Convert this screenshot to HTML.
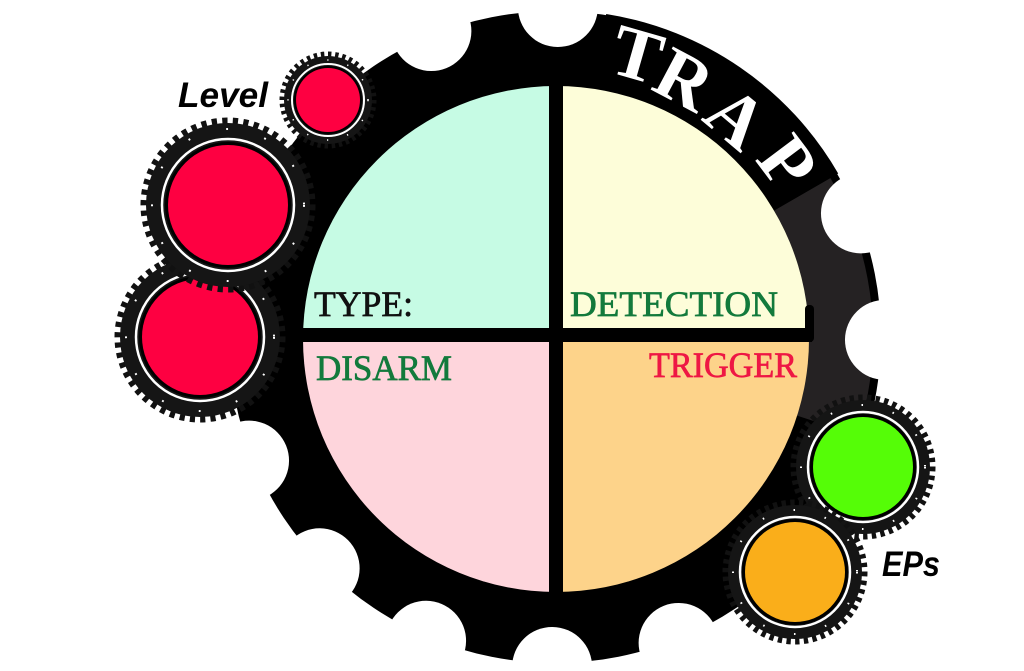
<!DOCTYPE html>
<html><head><meta charset="utf-8"><style>
html,body{margin:0;padding:0;background:#fff;width:1024px;height:671px;overflow:hidden;}
svg{display:block;}
</style></head><body>
<svg width="1024" height="671" viewBox="0 0 1024 671" xmlns="http://www.w3.org/2000/svg" overflow="hidden">
<defs>
<clipPath id="cc"><circle cx="556" cy="339" r="253"/></clipPath>
<clipPath id="frame"><rect x="0" y="0" width="1024" height="671"/></clipPath>
</defs>
<g clip-path="url(#frame)">
<!-- big gear -->
<circle cx="555" cy="337" r="326" fill="#000"/>
<path d="M555,337 L830.4,178 A318 318 0 0 1 857.4,435.3 Z" fill="#252223"/>
<g fill="#fff" transform="translate(555,337)">
<circle cx="0" cy="-330" r="40" transform="rotate(0.5)"/>
<circle cx="0" cy="-330" r="40" transform="rotate(23)"/>
<circle cx="0" cy="-330" r="40" transform="rotate(45.5)"/>
<circle cx="0" cy="-330" r="40" transform="rotate(68)"/>
<circle cx="0" cy="-330" r="40" transform="rotate(90.5)"/>
<circle cx="0" cy="-330" r="40" transform="rotate(113)"/>
<circle cx="0" cy="-330" r="40" transform="rotate(135.5)"/>
<circle cx="0" cy="-330" r="40" transform="rotate(158)"/>
<circle cx="0" cy="-330" r="40" transform="rotate(180.5)"/>
<circle cx="0" cy="-330" r="40" transform="rotate(203)"/>
<circle cx="0" cy="-330" r="40" transform="rotate(225.5)"/>
<circle cx="0" cy="-330" r="40" transform="rotate(248)"/>
<circle cx="0" cy="-330" r="40" transform="rotate(270.5)"/>
<circle cx="0" cy="-330" r="40" transform="rotate(293)"/>
<circle cx="0" cy="-330" r="40" transform="rotate(315.5)"/>
<circle cx="0" cy="-330" r="40" transform="rotate(338)"/>
</g>
<rect x="0" y="663" width="1024" height="8" fill="#fff"/>
<!-- banner -->
<path d="M555,337 L606.2,14 A327 327 0 0 1 838.2,173.5 Z" fill="#000"/>
<g font-family="Liberation Serif, serif" font-weight="bold" font-size="74" fill="#fff" text-anchor="middle" dominant-baseline="central">
<text transform="translate(637,55) rotate(16)">T</text>
<text transform="translate(684,80) rotate(28)">R</text>
<text transform="translate(736,118) rotate(40)">A</text>
<text transform="translate(787,163) rotate(53)">P</text>
</g>
<!-- colored circle -->
<g clip-path="url(#cc)">
<rect x="290" y="80" width="266" height="260" fill="#c6fbe4"/>
<rect x="556" y="80" width="270" height="260" fill="#fdfdd9"/>
<rect x="290" y="335" width="266" height="270" fill="#fed5dc"/>
<rect x="556" y="335" width="270" height="270" fill="#fdd38a"/>
</g>
<rect x="300" y="328" width="512" height="14" fill="#000"/>
<rect x="805" y="305" width="9" height="37" rx="4" fill="#000"/>
<rect x="549" y="84" width="14" height="512" fill="#000"/>
<g font-family="Liberation Serif, serif" font-size="36" stroke-width="0.7">
<text x="314" y="316" fill="#111" stroke="#111" textLength="99" lengthAdjust="spacingAndGlyphs">TYPE:</text>
<text x="570" y="316" fill="#137a3c" stroke="#137a3c" textLength="208" lengthAdjust="spacingAndGlyphs">DETECTION</text>
<text x="316" y="380" fill="#137a3c" stroke="#137a3c" textLength="136" lengthAdjust="spacingAndGlyphs">DISARM</text>
<text x="649" y="377" fill="#ee1744" stroke="#ee1744" textLength="148" lengthAdjust="spacingAndGlyphs">TRIGGER</text>
</g>
<!-- small gears -->
<g>
<circle cx="200" cy="337" r="82" fill="none" stroke="#111" stroke-width="7" pathLength="100" stroke-dasharray="1 1"/>
<circle cx="200" cy="337" r="80" fill="#151515"/>
<circle cx="200" cy="337" r="74" fill="none" stroke="#fff" stroke-width="2" pathLength="100" stroke-dasharray="0.4 7.9"/>
<circle cx="200" cy="337" r="64" fill="none" stroke="#fff" stroke-width="2.5"/>
<circle cx="200" cy="337" r="61" fill="#000"/>
<circle cx="200" cy="337" r="58" fill="#fe0041"/>
</g>
<g>
<circle cx="228" cy="205" r="84" fill="none" stroke="#111" stroke-width="7" pathLength="100" stroke-dasharray="1 1"/>
<circle cx="228" cy="205" r="82" fill="#151515"/>
<circle cx="228" cy="205" r="76" fill="none" stroke="#fff" stroke-width="2" pathLength="100" stroke-dasharray="0.4 7.9"/>
<circle cx="228" cy="205" r="66" fill="none" stroke="#fff" stroke-width="2.5"/>
<circle cx="228" cy="205" r="63" fill="#000"/>
<circle cx="228" cy="205" r="60" fill="#fe0041"/>
</g>
<g>
<circle cx="328" cy="100" r="46" fill="none" stroke="#111" stroke-width="5" pathLength="100" stroke-dasharray="1.2 1.3"/>
<circle cx="328" cy="100" r="44" fill="#151515"/>
<circle cx="328" cy="100" r="40" fill="none" stroke="#fff" stroke-width="1.5" pathLength="100" stroke-dasharray="0.5 7.8"/>
<circle cx="328" cy="100" r="36" fill="none" stroke="#fff" stroke-width="2"/>
<circle cx="328" cy="100" r="34" fill="#000"/>
<circle cx="328" cy="100" r="32" fill="#fe0041"/>
</g>
<g>
<circle cx="863" cy="467" r="69" fill="none" stroke="#111" stroke-width="7" pathLength="100" stroke-dasharray="1 1"/>
<circle cx="863" cy="467" r="67" fill="#151515"/>
<circle cx="863" cy="467" r="62" fill="none" stroke="#fff" stroke-width="2" pathLength="100" stroke-dasharray="0.4 7.9"/>
<circle cx="863" cy="467" r="55" fill="none" stroke="#fff" stroke-width="2.5"/>
<circle cx="863" cy="467" r="53" fill="#000"/>
<circle cx="863" cy="467" r="50" fill="#55fd07"/>
</g>
<g>
<circle cx="795" cy="572" r="69" fill="none" stroke="#111" stroke-width="7" pathLength="100" stroke-dasharray="1 1"/>
<circle cx="795" cy="572" r="67" fill="#151515"/>
<circle cx="795" cy="572" r="62" fill="none" stroke="#fff" stroke-width="2" pathLength="100" stroke-dasharray="0.4 7.9"/>
<circle cx="795" cy="572" r="55" fill="none" stroke="#fff" stroke-width="2.5"/>
<circle cx="795" cy="572" r="53" fill="#000"/>
<circle cx="795" cy="572" r="50" fill="#faae1a"/>
</g>
<g font-family="Liberation Sans, sans-serif" font-weight="bold" font-style="italic" font-size="35" fill="#000">
<text x="178" y="107" textLength="90" lengthAdjust="spacingAndGlyphs">Level</text>
<text x="882" y="576" textLength="58" lengthAdjust="spacingAndGlyphs">EPs</text>
</g>
</g>
</svg>
</body></html>
